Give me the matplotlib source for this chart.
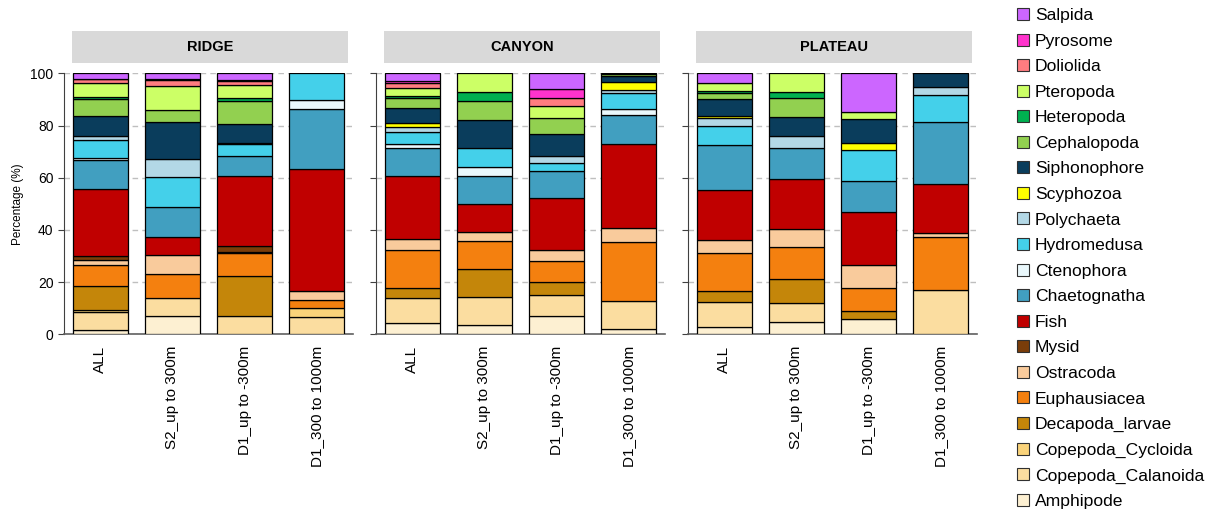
import matplotlib
matplotlib.use("Agg")
import matplotlib.pyplot as plt
from matplotlib.patches import Patch, Rectangle
import numpy as np

plt.rcParams['font.family'] = ['Liberation Sans', 'DejaVu Sans']

regions = ["RIDGE", "CANYON", "PLATEAU"]
samples = ["ALL", "S2_up to 300m", "D1_up to -300m", "D1_300 to 1000m"]

# values per taxon: RIDGE(4), CANYON(4), PLATEAU(4)
Amphipode          = [1.7, 6.9, 0.0, 0.0,   4.3, 3.4, 7.0, 2.2,    2.8, 4.7, 5.9, 0.0]
Copepoda_Calanoida = [6.9, 6.9, 6.9, 6.6,   9.6, 10.8, 8.1, 10.6,  9.5, 7.2, 0.0, 17.0]
Copepoda_Cycloida  = [0.6, 0.0, 0.0, 3.4,   0.0, 0.0, 0.0, 0.0,    0.0, 0.0, 0.0, 0.0]
Decapoda_larvae    = [9.3, 0.0, 15.6, 0.0,  3.7, 10.8, 5.1, 0.0,   4.1, 9.4, 2.9, 0.0]
Euphausiacea       = [7.9, 9.3, 8.7, 3.3,   14.6, 10.6, 7.9, 22.7, 14.8, 12.0, 8.8, 20.3]
Ostracoda          = [2.1, 7.1, 0.3, 3.3,   4.5, 3.6, 4.1, 5.3,    5.0, 6.9, 8.8, 1.7]
Mysid              = [1.4, 0.0, 2.5, 0.0,   0.0, 0.0, 0.0, 0.0,    0.0, 0.0, 0.0, 0.0]
Fish               = [25.8, 7.0, 26.8, 46.8, 24.0, 10.8, 20.2, 32.2, 19.2, 19.3, 20.5, 18.5]
Chaetognatha       = [11.0, 11.5, 7.7, 23.0, 10.8, 10.7, 10.2, 11.1, 17.2, 11.9, 11.9, 23.9]
Ctenophora         = [0.7, 0.0, 0.0, 3.3,   1.3, 3.4, 0.0, 2.1,    0.0, 0.0, 0.0, 0.0]
Hydromedusa        = [7.1, 11.6, 4.3, 10.3, 4.8, 7.2, 2.9, 6.4,    7.3, 0.0, 11.7, 10.1]
Polychaeta         = [1.4, 6.9, 0.4, 0.0,   2.0, 0.0, 3.0, 1.0,    2.9, 4.6, 0.0, 3.2]
Scyphozoa          = [0.0, 0.0, 0.0, 0.0,   1.3, 0.0, 0.0, 3.1,    0.8, 0.0, 2.8, 0.0]
Siphonophore       = [7.9, 14.2, 7.4, 0.0,  5.9, 10.9, 8.3, 2.3,   6.6, 7.3, 9.0, 5.3]
Cephalopoda        = [6.4, 4.5, 8.8, 0.0,   3.8, 7.0, 5.9, 0.7,    2.3, 7.2, 0.0, 0.0]
Heteropoda         = [0.8, 0.0, 1.0, 0.0,   0.6, 3.7, 0.0, 0.0,    0.8, 2.4, 0.0, 0.0]
Pteropoda          = [5.1, 9.2, 5.2, 0.0,   3.3, 7.1, 4.9, 0.3,    3.0, 7.1, 2.9, 0.0]
Doliolida          = [1.6, 2.3, 1.5, 0.0,   1.6, 0.0, 3.1, 0.0,    0.0, 0.0, 0.0, 0.0]
Pyrosome           = [0.3, 0.3, 0.4, 0.0,   1.0, 0.0, 3.1, 0.0,    0.0, 0.0, 0.0, 0.0]
Salpida            = [2.0, 2.3, 2.5, 0.0,   2.9, 0.0, 6.2, 0.0,    3.7, 0.0, 14.8, 0.0]

taxa = ["Amphipode", "Copepoda_Calanoida", "Copepoda_Cycloida", "Decapoda_larvae",
        "Euphausiacea", "Ostracoda", "Mysid", "Fish", "Chaetognatha", "Ctenophora",
        "Hydromedusa", "Polychaeta", "Scyphozoa", "Siphonophore", "Cephalopoda",
        "Heteropoda", "Pteropoda", "Doliolida", "Pyrosome", "Salpida"]
values = [Amphipode, Copepoda_Calanoida, Copepoda_Cycloida, Decapoda_larvae,
          Euphausiacea, Ostracoda, Mysid, Fish, Chaetognatha, Ctenophora,
          Hydromedusa, Polychaeta, Scyphozoa, Siphonophore, Cephalopoda,
          Heteropoda, Pteropoda, Doliolida, Pyrosome, Salpida]
colors = ["#FDF0D2", "#FBDDA0", "#FAD37A", "#C4860A",
          "#F4800F", "#F9CB9C", "#7A3D0A", "#C00000", "#419FC0", "#EAF8FC",
          "#44D0EA", "#B3D8E6", "#FFFF00", "#0A3D5C", "#92D050",
          "#00B050", "#CCFF66", "#FF7C80", "#FF33CC", "#CC66FF"]

fig = plt.figure(figsize=(12.12, 5.12), dpi=100)
W, H = 1212.0, 512.0
ax_lefts = [64, 376, 688]
ax_w = 289
ax_bottom = 334.3
ax_top = 73.3

x = np.arange(len(samples))
for r, region in enumerate(regions):
    ax = fig.add_axes([ax_lefts[r] / W, (H - ax_bottom) / H, ax_w / W, (ax_bottom - ax_top) / H])
    bottoms = np.zeros(len(samples))
    for t, name in enumerate(taxa):
        vals = np.array(values[t][4 * r:4 * r + 4], dtype=float)
        m = vals > 0
        ax.bar(x[m], vals[m], width=0.76, bottom=bottoms[m], color=colors[t],
               edgecolor="black", linewidth=0.9, zorder=3)
        bottoms += vals
    ax.set_xlim(-0.5, 3.5)
    ax.set_ylim(0, 100)
    ax.set_yticks([0, 20, 40, 60, 80, 100])
    ax.yaxis.grid(True, linestyle=(0, (4, 3)), color="#BFBFBF", linewidth=1, zorder=0)
    ax.set_axisbelow(True)
    for s in ["top", "right"]:
        ax.spines[s].set_visible(False)
    ax.spines["left"].set_color("#404040")
    ax.spines["bottom"].set_color("#606060")
    ax.spines["bottom"].set_linewidth(1.2)
    ax.set_xticks(x)
    ax.set_xticklabels(samples, rotation=90, fontsize=11)
    ax.tick_params(axis="x", length=0, pad=8)
    ax.tick_params(axis="y", length=4, direction="out", color="#404040", labelsize=10)
    if r == 0:
        ax.set_ylabel("Percentage (%)", fontsize=8.5, labelpad=5)
    else:
        ax.set_yticklabels([])
    # header strip
    hx0 = (ax_lefts[r] + 8) / W
    hx1 = (ax_lefts[r] + 284) / W
    hy0 = (H - 62.7) / H
    hy1 = (H - 31) / H
    fig.patches.append(Rectangle((hx0, hy0), hx1 - hx0, hy1 - hy0, transform=fig.transFigure,
                                 facecolor="#D9D9D9", edgecolor="none"))
    fig.text((hx0 + hx1) / 2, (hy0 + hy1) / 2, region, ha="center", va="center",
             fontsize=10.5, fontweight="bold")

handles = [Patch(facecolor=colors[t], edgecolor="#303030", linewidth=0.8) for t in range(len(taxa))][::-1]
labels = taxa[::-1]
fig.legend(handles, labels, loc="upper left", bbox_to_anchor=(1010 / W, 1.0 - 1 / H),
           frameon=False, fontsize=12.6, handlelength=0.68, handleheight=0.68,
           handletextpad=0.35, labelspacing=0.595, borderaxespad=0)

fig.savefig("out.png", dpi=100)
